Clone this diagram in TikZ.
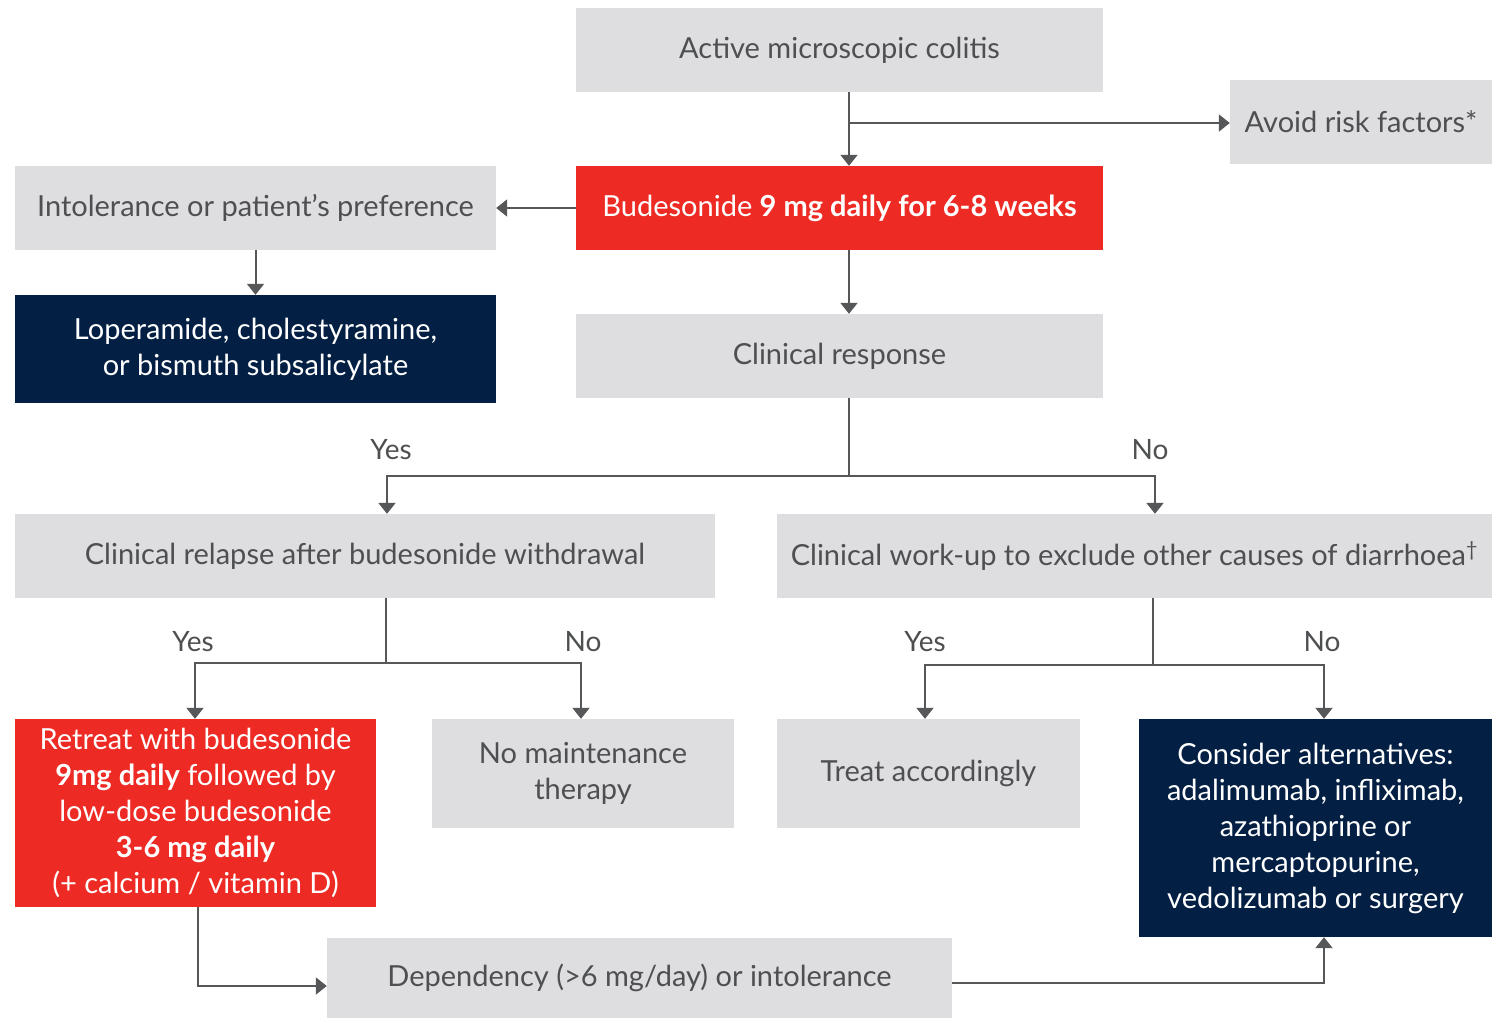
\documentclass[tikz,border=0pt]{standalone}
\usepackage{fontspec}
\setmainfont{Lato}
\usepackage{tikz}
\usetikzlibrary{arrows.meta,calc}
\definecolor{boxgrey}{HTML}{DEDEE0}
\definecolor{txtgrey}{HTML}{4D4F51}
\definecolor{boxred}{HTML}{EE2A24}
\definecolor{boxnavy}{HTML}{032044}
\definecolor{linegrey}{HTML}{555759}
\tikzset{
box/.style={rectangle,inner sep=0pt,align=center,font=\fontsize{29}{36}\selectfont},
greybox/.style={box,fill=boxgrey,text=txtgrey},
redbox/.style={box,fill=boxred,text=white},
navybox/.style={box,fill=boxnavy,text=white},
answer/.style={text=txtgrey,font=\fontsize{28}{32}\selectfont},
link/.style={draw=linegrey,line width=2pt},
arr/.style={link,-{Triangle[length=11pt,width=17pt]}},
}

\begin{document}
\begin{tikzpicture}[x=1pt,y=-1pt]
\useasboundingbox (0,0) rectangle (1492,1018);
% boxes
\node[greybox,minimum width=527pt,minimum height=84pt] (act) at (839.5,50) {Active microscopic colitis};
\node[greybox,minimum width=262pt,minimum height=84pt] (avoid) at (1361,122) {Avoid risk factors*};
\node[redbox,minimum width=527pt,minimum height=84pt] (bud) at (839.5,208) {Budesonide \textbf{9 mg daily for 6-8 weeks}};
\node[greybox,minimum width=481pt,minimum height=84pt] (intol) at (255.5,208) {Intolerance or patient’s preference};
\node[navybox,minimum width=481pt,minimum height=108pt] (lop) at (255.5,349) {Loperamide, cholestyramine,\\or bismuth subsalicylate};
\node[greybox,minimum width=527pt,minimum height=84pt] (resp) at (839.5,356) {Clinical response};
\node[greybox,minimum width=700pt,minimum height=84pt] (relapse) at (365,556) {Clinical relapse after budesonide withdrawal};
\node[greybox,minimum width=715pt,minimum height=84pt] (workup) at (1134.5,556) {Clinical work-up to exclude other causes of diarrhoea\textsuperscript{†}};
\node[redbox,minimum width=361pt,minimum height=188pt] (retreat) at (195.5,813) {Retreat with budesonide\\\textbf{9mg daily} followed by\\low-dose budesonide\\\textbf{3-6 mg daily}\\(+ calcium / vitamin D)};
\node[greybox,minimum width=302pt,minimum height=109pt] (nomaint) at (583,773.5) {No maintenance\\therapy};
\node[greybox,minimum width=303pt,minimum height=109pt] (treat) at (928.5,773.5) {Treat accordingly};
\node[navybox,minimum width=353pt,minimum height=218pt] (consider) at (1315.5,828) {Consider alternatives:\\adalimumab, infliximab,\\azathioprine or\\mercaptopurine,\\vedolizumab or surgery};
\node[greybox,minimum width=625pt,minimum height=80pt] (dep) at (639.5,978) {Dependency (>6 mg/day) or intolerance};

% answers
\node[answer] (yes1) at (391,450) {Yes};
\node[answer] (no1) at (1150,450) {No};
\node[answer] (yes2) at (193,642) {Yes};
\node[answer] (no2) at (583,642) {No};
\node[answer] (yes3) at (925,642) {Yes};
\node[answer] (no3) at (1322,642) {No};

% connectors
\coordinate (c1) at (849,123);
\draw[arr] (act.south -| c1) -- (bud.north -| c1);
\draw[arr] (c1) -- (avoid.west |- c1);
\draw[arr] (bud.west) -- (intol.east);
\draw[arr] (intol.south) -- (lop.north);
\draw[arr] (bud.south -| c1) -- (resp.north -| c1);

\coordinate (s1) at (849,476);
\coordinate (s1l) at (387,476);
\coordinate (s1r) at (1155,476);
\draw[link] (resp.south -| s1) -- (s1);
\draw[arr] (s1) -- (s1l) -- (relapse.north -| s1l);
\draw[arr] (s1) -- (s1r) -- (workup.north -| s1r);

\coordinate (s2) at (386,663);
\coordinate (s2l) at (195,663);
\coordinate (s2r) at (581,663);
\draw[link] (relapse.south -| s2) -- (s2);
\draw[arr] (s2) -- (s2l) -- (retreat.north -| s2l);
\draw[arr] (s2) -- (s2r) -- (nomaint.north -| s2r);

\coordinate (s3) at (1153,665);
\coordinate (s3l) at (925,665);
\coordinate (s3r) at (1324,665);
\draw[link] (workup.south -| s3) -- (s3);
\draw[arr] (s3) -- (s3l) -- (treat.north -| s3l);
\draw[arr] (s3) -- (s3r) -- (consider.north -| s3r);

\coordinate (r1) at (198,986);
\draw[arr] (retreat.south -| r1) -- (r1) -- (dep.west |- r1);
\coordinate (d1) at (1324,983);
\draw[arr] (dep.east |- d1) -- (d1) -- (consider.south -| d1);
\end{tikzpicture}
\end{document}
